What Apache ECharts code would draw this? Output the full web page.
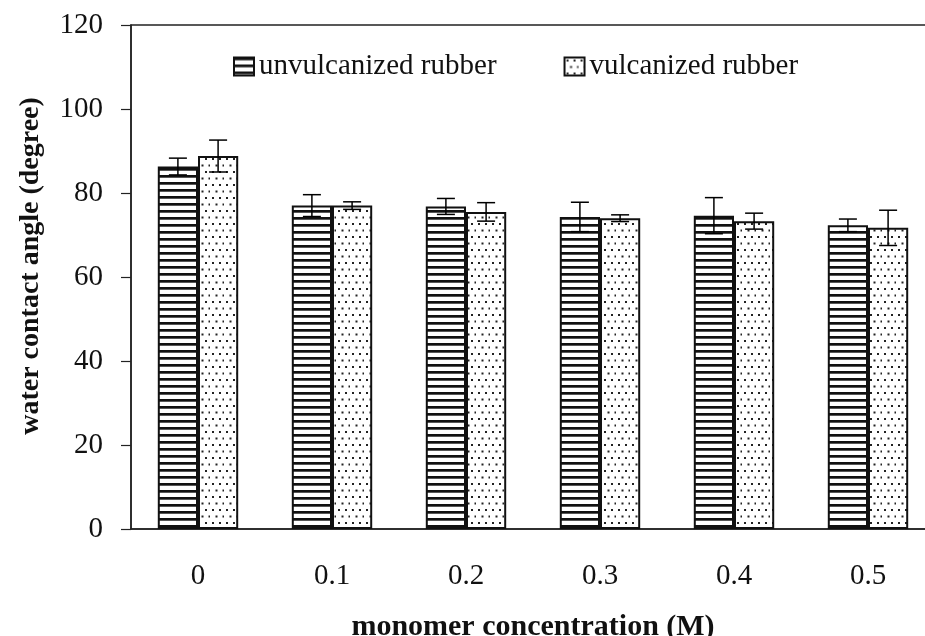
<!DOCTYPE html>
<html>
<head>
<meta charset="utf-8">
<script src="https://cdn.jsdelivr.net/npm/echarts@6/dist/echarts.min.js"></script>
<style>
  html, body { margin: 0; padding: 0; background: #fff; }
  #chart { width: 925px; height: 636px; }
</style>
</head>
<body>
<div id="chart"></div>
<script>
// data
const categories = ["0", "0.1", "0.2", "0.3", "0.4", "0.5"];
const unvulcanized = [86.3, 77.0, 76.8, 74.3, 74.6, 72.3];
const unvulcanizedErr = [2.0, 2.6, 1.9, 3.5, 4.3, 1.5];
const vulcanized = [88.8, 77.0, 75.5, 74.0, 73.3, 71.7];
const vulcanizedErr = [3.8, 0.9, 2.2, 0.8, 1.9, 4.2];
const yTicks = [0, 20, 40, 60, 80, 100, 120];

const FONT = "Liberation Serif";

// fill patterns
function stripePattern() {
  const c = document.createElement("canvas");
  c.width = 8;
  c.height = 7;
  const ctx = c.getContext("2d");
  ctx.fillStyle = "#fff";
  ctx.fillRect(0, 0, 8, 7);
  ctx.fillStyle = "#111";
  ctx.fillRect(0, 0, 8, 2.7);
  return c;
}
function dotPattern() {
  const c = document.createElement("canvas");
  c.width = 14;
  c.height = 13;
  const ctx = c.getContext("2d");
  ctx.fillStyle = "#fff";
  ctx.fillRect(0, 0, 14, 13);
  ctx.fillStyle = "#222";
  [[2, 2], [9, 2], [5.5, 8.5], [12.5, 8.5]].forEach(p => ctx.fillRect(p[0], p[1], 2, 2));
  return c;
}

const errData = (vals, errs) => vals.map((v, i) => [i, v, errs[i]]);

// error bar drawn at the bar centre (side = which half of the category)
const errorItem = side => (params, api) => {
  const idx = api.value(0);
  const mean = api.value(1);
  const err = api.value(2);
  const catW = api.size([1, 0])[0];
  const dx = side * catW * 0.15;
  const hi = api.coord([idx, mean + err]);
  const lo = api.coord([idx, mean - err]);
  const x = hi[0] + dx;
  const cap = 9;
  const st = { stroke: "#000", lineWidth: 1.5 };
  return {
    type: "group",
    children: [
      { type: "line", shape: { x1: x, y1: hi[1], x2: x, y2: lo[1] }, style: st },
      { type: "line", shape: { x1: x - cap, y1: hi[1], x2: x + cap, y2: hi[1] }, style: st },
      { type: "line", shape: { x1: x - cap, y1: lo[1], x2: x + cap, y2: lo[1] }, style: st }
    ]
  };
};

const chart = echarts.init(document.getElementById("chart"));

const option = {
  backgroundColor: "#fff",
  animation: false,
  grid: {
    left: 131,
    width: 804, // the plot runs past the right edge of the picture
    top: 25,
    bottom: 107,
    outerBoundsMode: "none",
    show: true,
    borderColor: "#222",
    borderWidth: 1.5
  },
  legend: {
    data: ["unvulcanized rubber", "vulcanized rubber"],
    left: 228,
    top: 47,
    icon: "rect",
    itemWidth: 20,
    itemHeight: 18,
    itemGap: 67,
    textStyle: { fontFamily: FONT, fontSize: 29, color: "#111" }
  },
  xAxis: {
    type: "category",
    data: categories,
    name: "monomer concentration (M)",
    nameLocation: "middle",
    nameGap: 83,
    nameTextStyle: { fontFamily: FONT, fontSize: 30, fontWeight: "bold", color: "#111" },
    axisLine: { lineStyle: { color: "#222", width: 1.5 } },
    axisTick: { length: 9, lineStyle: { color: "#222", width: 1.2 } },
    axisLabel: { fontFamily: FONT, fontSize: 29, color: "#111", margin: 33 }
  },
  yAxis: {
    type: "value",
    min: 0,
    max: 120,
    interval: 20,
    name: "water contact angle (degree)",
    nameLocation: "middle",
    nameRotate: 90,
    nameGap: 86,
    nameTextStyle: {
      fontFamily: FONT,
      fontSize: 28,
      fontWeight: "bold",
      color: "#111",
      padding: [0, 0, 0, 22]
    },
    splitLine: { show: false },
    axisLine: { show: true, lineStyle: { color: "#222", width: 1.5 } },
    axisTick: { show: true, length: 10, lineStyle: { color: "#222", width: 1.2 } },
    axisLabel: {
      fontFamily: FONT,
      fontSize: 29,
      color: "#111",
      margin: 28,
      formatter: v => (yTicks.indexOf(v) >= 0 ? String(v) : "")
    }
  },
  series: [
    {
      name: "unvulcanized rubber",
      type: "bar",
      data: unvulcanized,
      barGap: "0%",
      barCategoryGap: "40%",
      itemStyle: {
        color: { image: stripePattern(), repeat: "repeat" },
        borderColor: "#111",
        borderWidth: 2
      }
    },
    {
      name: "vulcanized rubber",
      type: "bar",
      data: vulcanized,
      itemStyle: {
        color: { image: dotPattern(), repeat: "repeat" },
        borderColor: "#111",
        borderWidth: 2
      }
    },
    {
      type: "custom",
      data: errData(unvulcanized, unvulcanizedErr),
      renderItem: errorItem(-1),
      z: 5,
      silent: true
    },
    {
      type: "custom",
      data: errData(vulcanized, vulcanizedErr),
      renderItem: errorItem(1),
      z: 5,
      silent: true
    }
  ]
};

chart.setOption(option);
</script>
</body>
</html>
